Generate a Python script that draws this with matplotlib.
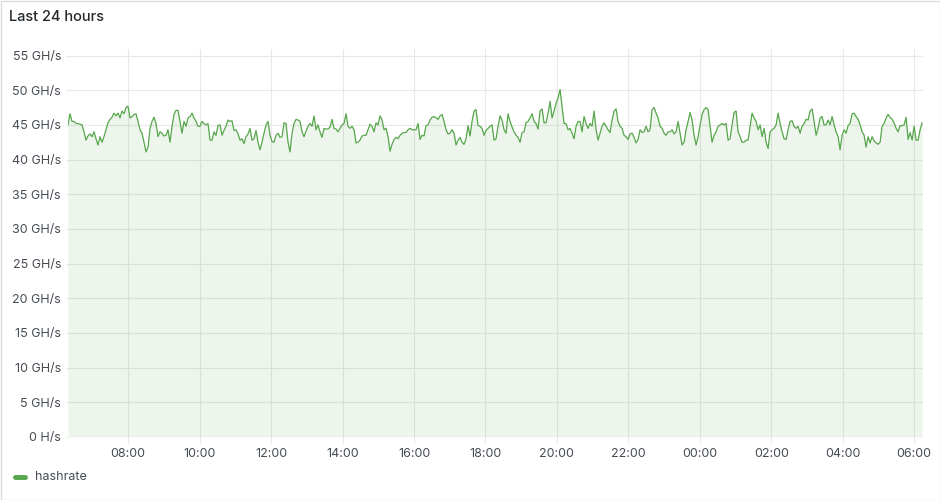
import numpy as np
import pandas as pd
import matplotlib
matplotlib.use("Agg")
import matplotlib.pyplot as plt
import matplotlib.dates as mdates
from matplotlib.patches import Rectangle
from matplotlib.lines import Line2D

# ---------------- data ----------------
title = "Last 24 hours"
series_name = "hashrate"
start_time = "2024-05-01 06:18:48"
end_time = "2024-05-02 06:13:30"
view_start = "2024-05-01 06:18:48"
view_end = "2024-05-02 06:15:00"

hashrate_ghs = [
    # segment 1
    45.0, 46.6, 45.5, 45.5, 45.2, 45.2, 45.1, 45.0, 44.0, 42.8, 43.4, 43.7, 43.3, 44.0, 43.0, 42.1,
    43.3, 42.5, 43.3, 44.3, 45.3, 45.8, 46.1, 46.7, 46.3, 46.7, 46.0, 47.0, 46.6, 47.5, 47.7, 46.0,
    46.2, 46.5, 46.6, 45.5, 44.3, 43.8, 42.5, 41.1, 41.8, 44.5, 45.5, 46.1, 45.2, 43.3, 44.0, 43.8,
    43.4, 43.5, 44.3, 42.5, 44.8, 46.5, 47.1, 47.1, 45.5, 43.8, 45.5, 44.8, 46.0, 46.2, 46.7, 46.0,
    45.5, 44.8, 44.8, 45.5, 45.2, 45.0, 45.2,
    # segment 2
    42.8, 42.8, 44.0, 43.5, 44.9, 45.0, 43.5, 44.2, 44.8, 45.7, 45.5, 45.6, 44.2, 44.3, 43.7, 42.8,
    43.0, 42.3, 43.3, 43.7, 44.5, 42.8, 43.0, 44.2, 42.5, 41.4, 42.5, 43.8, 45.0, 45.5, 43.5, 42.6,
    42.5, 43.5, 43.8, 43.2, 43.3, 45.3, 45.2, 42.5, 41.1, 43.8, 45.2, 45.8, 45.7, 45.5, 44.0, 43.3,
    44.1, 44.8, 45.2, 44.8, 46.3, 44.3, 45.0, 44.0, 43.2, 44.5, 44.4, 44.4, 44.7, 45.8, 44.5, 44.4,
    44.0, 44.5, 45.0, 45.2, 46.6, 44.8,
    # segment 3
    44.5, 44.8, 44.3, 42.4, 42.5, 42.8, 43.4, 43.5, 43.5, 44.3, 45.1, 44.8, 44.0, 45.3, 45.0, 46.3,
    45.7, 44.3, 44.5, 43.3, 41.2, 42.2, 42.9, 43.2, 43.0, 43.5, 43.8, 43.9, 43.9, 44.3, 44.5, 44.3,
    44.3, 44.3, 45.2, 42.9, 43.5, 43.4, 44.9, 45.0, 45.7, 46.1, 46.2, 46.0, 45.8, 46.3, 46.5, 45.5,
    44.3, 43.7, 43.8, 44.3, 43.8, 42.1, 42.8, 43.2, 42.5, 42.2, 43.0, 44.9, 43.4, 45.5, 47.0, 47.2,
    44.9, 44.8, 44.5, 43.5, 44.2, 44.5,
    # segment 4
    44.8, 45.0, 42.8, 43.0, 44.8, 46.3, 45.7, 44.3, 43.8, 46.6, 45.5, 44.7, 44.0, 43.5, 43.2, 42.5,
    43.9, 44.0, 45.3, 45.5, 46.0, 46.6, 45.5, 45.2, 44.4, 47.0, 47.3, 45.3, 45.3, 46.7, 48.4, 46.0,
    47.0, 48.1, 48.9, 50.1, 47.7, 45.2, 45.2, 44.3, 44.5, 43.8, 43.0, 44.8, 45.5, 45.5, 44.0, 46.2,
    45.2, 44.5, 45.2, 44.8, 47.0, 44.3, 42.8, 43.8, 44.8, 45.3, 44.8, 44.3, 43.9, 45.7, 47.0, 47.3,
    45.5, 44.8, 44.5, 43.5, 43.3, 42.9,
    # segment 5
    43.7, 43.8, 43.2, 42.4, 42.9, 44.3, 43.9, 44.0, 44.8, 44.0, 44.3, 47.2, 47.5, 46.7, 46.0, 44.8,
    44.5, 43.8, 43.5, 44.0, 44.0, 44.3, 43.7, 44.0, 45.5, 43.8, 42.1, 42.5, 44.3, 45.5, 46.8, 45.7,
    43.5, 42.1, 43.3, 45.0, 46.5, 47.2, 47.5, 47.2, 44.8, 42.5, 43.5, 44.0, 44.8, 45.0, 45.2, 45.0,
    45.2, 42.8, 43.0, 45.0, 46.8, 47.0, 44.0, 43.3, 42.5, 42.5, 42.8, 42.8, 44.8, 46.7, 46.0, 45.5,
    44.3, 45.0, 43.3, 44.5, 42.5, 41.6,
    # segment 6
    44.0, 44.3, 44.5, 45.0, 46.7, 45.2, 44.0, 43.0, 42.9, 44.3, 45.5, 45.6, 44.8, 44.5, 44.8, 43.8,
    44.8, 45.2, 45.8, 45.7, 47.0, 47.3, 45.5, 43.5, 44.5, 46.0, 46.2, 45.0, 45.0, 45.7, 45.0, 46.2,
    45.0, 44.0, 43.3, 41.4, 43.5, 44.3, 43.8, 44.9, 45.2, 46.6, 46.7, 46.2, 45.8, 45.0, 44.0, 43.5,
    41.8, 43.3, 42.4, 43.3, 42.7, 42.4, 42.2, 42.5, 44.8, 45.2, 46.0, 46.5, 46.1, 45.8, 45.3, 44.5,
    44.0, 44.9, 44.9, 45.0, 46.1, 42.9, 43.9, 42.8, 44.8, 42.8, 42.8, 44.3, 45.3,
]

y_ticks = [0, 5, 10, 15, 20, 25, 30, 35, 40, 45, 50, 55]
y_tick_labels = ["0 H/s", "5 GH/s", "10 GH/s", "15 GH/s", "20 GH/s", "25 GH/s",
                 "30 GH/s", "35 GH/s", "40 GH/s", "45 GH/s", "50 GH/s", "55 GH/s"]

# ---------------- style ----------------
plt.rcParams['font.family'] = ['Inter', 'DejaVu Sans']
LINE = '#56a64b'
GRID = '#e8e8e8'
TEXT = '#464c54'

W, H = 940, 500
fig = plt.figure(figsize=(W / 100, H / 100), dpi=100)
fig.patch.set_facecolor('white')

left, right, bottom, top = 68 / W, 923 / W, 1 - 437 / H, 1 - 48.6 / H
ax = fig.add_axes([left, bottom, right - left, top - bottom])

times = pd.date_range(start_time, end_time, periods=len(hashrate_ghs))
ax.fill_between(times, hashrate_ghs, 0, color=LINE, alpha=0.1, lw=0, zorder=2)
ax.plot(times, hashrate_ghs, color=LINE, lw=0.9, zorder=3)

ax.set_xlim(pd.Timestamp(view_start), pd.Timestamp(view_end))
ax.set_ylim(0, 56)
ax.set_yticks(y_ticks)
ax.set_yticklabels(y_tick_labels)
ax.xaxis.set_major_locator(mdates.HourLocator(byhour=range(0, 24, 2)))
ax.xaxis.set_major_formatter(mdates.DateFormatter('%H:%M'))

ax.grid(True, color=GRID, lw=0.8, zorder=0)
ax.set_axisbelow(True)
for s in ax.spines.values():
    s.set_visible(False)
ax.tick_params(axis='y', length=1.5, color=GRID, pad=3.5, labelsize=9, labelcolor=TEXT)
ax.tick_params(axis='x', length=4.5, color=GRID, pad=3.5, labelsize=9, labelcolor=TEXT)

# panel border
fig.add_artist(Rectangle((0.5 / W, 0.5 / H), 1 - 1 / W, 1 - 1 / H, transform=fig.transFigure,
                         fill=False, edgecolor='#dcdde0', lw=1))

# title
fig.text(9 / W, 1 - 17 / H, title, fontsize=10.5, fontweight='medium', color='#24292e',
         ha='left', va='center')

# legend
fig.add_artist(Line2D([15 / W, 25 / W], [1 - 477 / H] * 2, transform=fig.transFigure,
                      color=LINE, lw=3.5, solid_capstyle='round'))
fig.text(35 / W, 1 - 477 / H, series_name, fontsize=9, color=TEXT, ha='left', va='center')

fig.savefig('out.png', dpi=100, facecolor='white')
